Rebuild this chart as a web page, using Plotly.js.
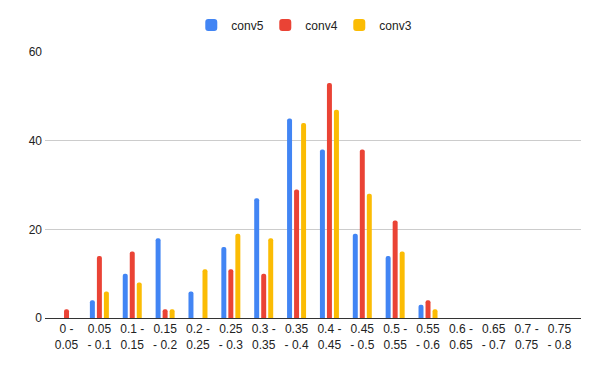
<!DOCTYPE html>
<html>
<head>
<meta charset="utf-8">
<script src="https://cdn.plot.ly/plotly-3.0.1.min.js"></script>
<style>html,body{margin:0;padding:0;background:#fff;}#chart{width:600px;height:371px;}</style>
</head>
<body>
<div id="chart"></div>
<script>
const categories = ["0 -<br>0.05","0.05<br>- 0.1","0.1 -<br>0.15","0.15<br>- 0.2","0.2 -<br>0.25","0.25<br>- 0.3","0.3 -<br>0.35","0.35<br>- 0.4","0.4 -<br>0.45","0.45<br>- 0.5","0.5 -<br>0.55","0.55<br>- 0.6","0.6 -<br>0.65","0.65<br>- 0.7","0.7 -<br>0.75","0.75<br>- 0.8"];
const conv5 = [0, 4, 10, 18, 6, 16, 27, 45, 38, 19, 14, 3, 0, 0, 0, 0];
const conv4 = [2, 14, 15, 2, 0, 11, 10, 29, 53, 38, 22, 4, 0, 0, 0, 0];
const conv3 = [0, 6, 8, 2, 11, 19, 18, 44, 47, 28, 15, 2, 0, 0, 0, 0];
const yTicks = [0, 20, 40, 60];

const mk = (name, y, color) => ({type:'bar', name, x:categories, y, marker:{color}, hoverinfo:'y'});
const data = [
  mk('conv5', conv5, '#4285F4'),
  mk('conv4', conv4, '#EA4335'),
  mk('conv3', conv3, '#FBBC04')
];
const layout = {
  width:600, height:371,
  margin:{l:45, r:19, t:51, b:53},
  paper_bgcolor:'#fff', plot_bgcolor:'#fff',
  font:{family:'"Liberation Sans", Arial, sans-serif', size:12, color:'#222'},
  barmode:'group', bargap:0.36, bargroupgap:0.29, barcornerradius:2,
  showlegend:true,
  legend:{orientation:'h', x:0.48, xanchor:'center', y:1.097, yanchor:'middle', entrywidth:29, entrywidthmode:'pixels', font:{size:12, color:'#222'}},
  xaxis:{type:'category', range:[-0.655, 15.655], showgrid:false, showline:true, linecolor:'#333', linewidth:1, ticks:'', tickfont:{size:12, color:'#222'}, tickangle:0, automargin:false, fixedrange:true},
  yaxis:{range:[0,60], tickvals:yTicks, ticktext:yTicks.map(String), showgrid:true, gridcolor:'#cccccc', zeroline:false, showline:false, ticks:'', ticklabelstandoff:2, tickfont:{size:12, color:'#222'}, automargin:false, fixedrange:true}
};
Plotly.newPlot('chart', data, layout, {displayModeBar:false, staticPlot:true});
</script>
</body>
</html>
